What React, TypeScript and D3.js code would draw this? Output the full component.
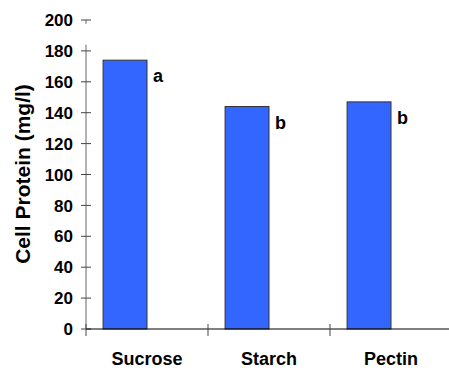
import React, { useEffect, useRef } from "react";
import * as d3 from "d3";

const categories = ["Sucrose", "Starch", "Pectin"];
const proteinValues = [174, 144, 147];
const sigLetters = ["a", "b", "b"];
const yTickValues = [0, 20, 40, 60, 80, 100, 120, 140, 160, 180, 200];

const W = 449;
const H = 370;

const App = () => {
  const svgRef = useRef<SVGSVGElement | null>(null);

  useEffect(() => {
    const svg = d3.select(svgRef.current);
    svg.selectAll("*").remove();

    const font = "'Liberation Sans', Arial, sans-serif";

    // scales
    const xScale = d3
      .scaleBand<string>()
      .domain(categories)
      .range([86, 452])
      .padding(0);
    const bw = xScale.bandwidth();

    const yScale = d3.scaleLinear().domain([0, 200]).range([329, 20]);

    // y axis line (has a gap near the top like the original)
    svg
      .append("line")
      .attr("x1", 86)
      .attr("x2", 86)
      .attr("y1", yScale(0))
      .attr("y2", yScale(184))
      .attr("stroke", "#666")
      .attr("stroke-width", 1);
    svg
      .append("line")
      .attr("x1", 86)
      .attr("x2", 86)
      .attr("y1", yScale(200))
      .attr("y2", yScale(197.5))
      .attr("stroke", "#666")
      .attr("stroke-width", 1);

    // y ticks + labels
    const yt = svg.append("g");
    yt.selectAll("line")
      .data(yTickValues)
      .join("line")
      .attr("x1", 81)
      .attr("x2", 91)
      .attr("y1", (d) => yScale(d))
      .attr("y2", (d) => yScale(d))
      .attr("stroke", "#444")
      .attr("stroke-width", 1);
    yt.selectAll("text")
      .data(yTickValues)
      .join("text")
      .attr("x", 73)
      .attr("y", (d) => yScale(d))
      .attr("dy", "0.36em")
      .attr("text-anchor", "end")
      .attr("font-family", font)
      .attr("font-weight", "bold")
      .attr("font-size", "17px")
      .attr("fill", "#000")
      .text((d) => d);

    // bars
    svg
      .selectAll(".bar")
      .data(categories)
      .join("rect")
      .attr("class", "bar")
      .attr("x", (d) => (xScale(d) as number) + bw * 0.14)
      .attr("y", (d, i) => yScale(proteinValues[i]))
      .attr("width", bw * 0.36)
      .attr("height", (d, i) => yScale(0) - yScale(proteinValues[i]))
      .attr("fill", "#3366ff")
      .attr("stroke", "#333")
      .attr("stroke-width", 1);

    // significance letters
    svg
      .selectAll(".sig")
      .data(categories)
      .join("text")
      .attr("class", "sig")
      .attr("x", (d) => (xScale(d) as number) + bw * 0.5 + 6)
      .attr("y", (d, i) => yScale(proteinValues[i]) + 22)
      .attr("font-family", font)
      .attr("font-weight", "bold")
      .attr("font-size", "18px")
      .attr("fill", "#000")
      .text((d, i) => sigLetters[i]);

    // x axis
    svg
      .append("line")
      .attr("x1", 86)
      .attr("x2", W)
      .attr("y1", 329)
      .attr("y2", 329)
      .attr("stroke", "#000")
      .attr("stroke-width", 1);
    svg
      .selectAll(".xtick")
      .data(categories)
      .join("line")
      .attr("class", "xtick")
      .attr("x1", (d) => xScale(d) as number)
      .attr("x2", (d) => xScale(d) as number)
      .attr("y1", 324)
      .attr("y2", 336)
      .attr("stroke", "#444")
      .attr("stroke-width", 1);
    svg
      .selectAll(".xlabel")
      .data(categories)
      .join("text")
      .attr("class", "xlabel")
      .attr("x", (d) => (xScale(d) as number) + bw / 2)
      .attr("y", 365)
      .attr("text-anchor", "middle")
      .attr("font-family", font)
      .attr("font-weight", "bold")
      .attr("font-size", "18px")
      .attr("fill", "#000")
      .text((d) => d);

    // y title
    svg
      .append("text")
      .attr("transform", "translate(30,174) rotate(-90)")
      .attr("text-anchor", "middle")
      .attr("font-family", font)
      .attr("font-weight", "bold")
      .attr("font-size", "21px")
      .attr("fill", "#000")
      .text("Cell Protein (mg/l)");
  }, []);

  return (
    <svg
      ref={svgRef}
      width={W}
      height={H}
      style={{ position: "absolute", left: 0, top: 0, background: "#fff" }}
    />
  );
};

export default App;
